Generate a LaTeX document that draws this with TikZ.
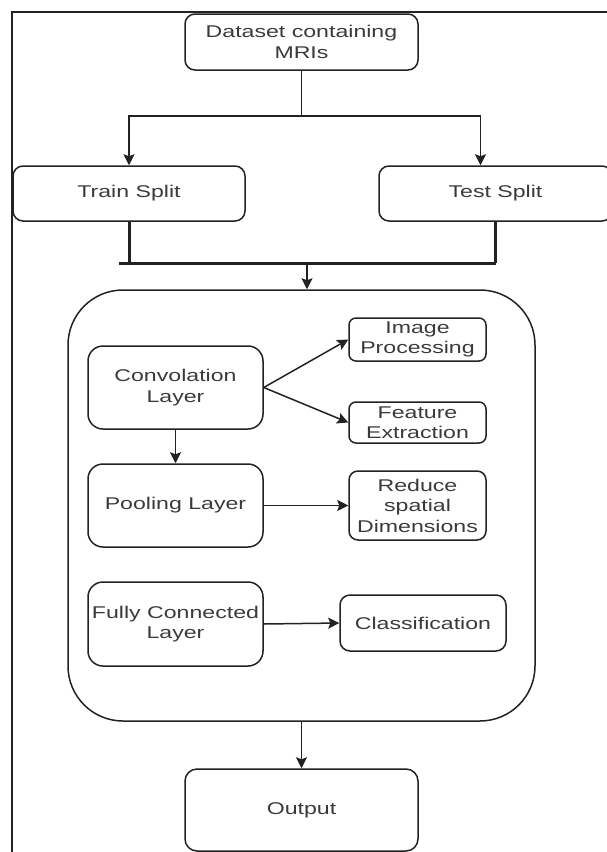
\documentclass[tikz,border=0pt]{standalone}
\usepackage{fontspec}
\setmainfont{Liberation Sans}[FakeStretch=1.36]
\usetikzlibrary{arrows.meta}

\definecolor{inkline}{HTML}{222222}
\definecolor{inktext}{HTML}{3A3A3A}

\tikzset{
  box/.style={draw=inkline, line width=1.5pt, rounded corners=10pt, align=center,
    inner sep=0pt, text=inktext, font=\fontsize{17}{20.5}\selectfont},
  arrow/.style={draw=inkline, line width=1.5pt, -{Stealth[length=11pt,width=11pt,inset=2pt]}},
  bus/.style={draw=inkline, line width=3pt},
}

\begin{document}
\begin{tikzpicture}[x=1pt,y=-1pt]
    \useasboundingbox (0,0) rectangle (607,852);
    \clip (0,0) rectangle (607,852);
    \draw[inkline, line width=1.6pt] (607,12) -- (12,12) -- (12,852);

    \node[box, minimum width=233pt, minimum height=56pt] (data) at (301.5,42) {Dataset containing\\MRIs};
    \node[box, minimum width=232pt, minimum height=55pt] (train) at (129,193.5) {Train Split};
    \node[box, minimum width=233pt, minimum height=55pt] (test) at (495.5,193.5) {Test Split};

    % split
    \coordinate (split) at (301.5,116);
    \draw[inkline, line width=1.5pt] (data.south) -- (split);
    \draw[arrow] (split) -| (train.north);
    \draw[arrow] (split) -| ([xshift=-15pt]test.north);

    % merge
    \coordinate (mergeL) at (119,263);
    \coordinate (mergeR) at (496,263);
    \coordinate (mergeC) at (307,263);
    \draw[bus] (train.south) -- (train.south |- mergeL);
    \draw[bus] (test.south) -- (test.south |- mergeR);
    \draw[bus] (mergeL) -- (mergeR);

    % cnn
    \node[box, rounded corners=55pt, minimum width=467pt, minimum height=431pt] (cnn) at (301.5,505.5) {};
    \draw[arrow] (mergeC) -- (mergeC |- cnn.north);

    \node[box, rounded corners=15pt, minimum width=175pt, minimum height=83pt] (conv) at (175.5,387.5) {Convolation\\Layer};
    \node[box, rounded corners=7pt, minimum width=137pt, minimum height=43pt] (imgproc) at (417.5,339.5) {Image\\Processing};
    \node[box, rounded corners=7pt, minimum width=137pt, minimum height=41pt] (feat) at (417.5,422.5) {Feature\\Extraction};
    \node[box, rounded corners=15pt, minimum width=175pt, minimum height=83pt] (pool) at (175.5,505.5) {Pooling Layer};
    \node[box, rounded corners=9pt, minimum width=137pt, minimum height=69pt] (reduce) at (417.5,505.5) {Reduce\\spatial\\Dimensions};
    \node[box, rounded corners=15pt, minimum width=175pt, minimum height=84pt] (fc) at (175.5,624) {Fully Connected\\Layer};
    \node[box, rounded corners=10pt, minimum width=166pt, minimum height=56pt] (class) at (423,623) {Classification};

    \draw[arrow] (conv.east) -- (imgproc.west);
    \draw[arrow] (conv.east) -- (feat.west);
    \draw[arrow] (conv.south) -- (pool.north);
    \draw[arrow] (pool.east) -- (reduce.west);
    \draw[arrow] (fc.east) -- (class.west);

    % output
    \node[box, rounded corners=12pt, minimum width=233pt, minimum height=82pt] (output) at (301.5,810) {Output};
    \draw[arrow] (cnn.south) -- (output.north);
\end{tikzpicture}
\end{document}
